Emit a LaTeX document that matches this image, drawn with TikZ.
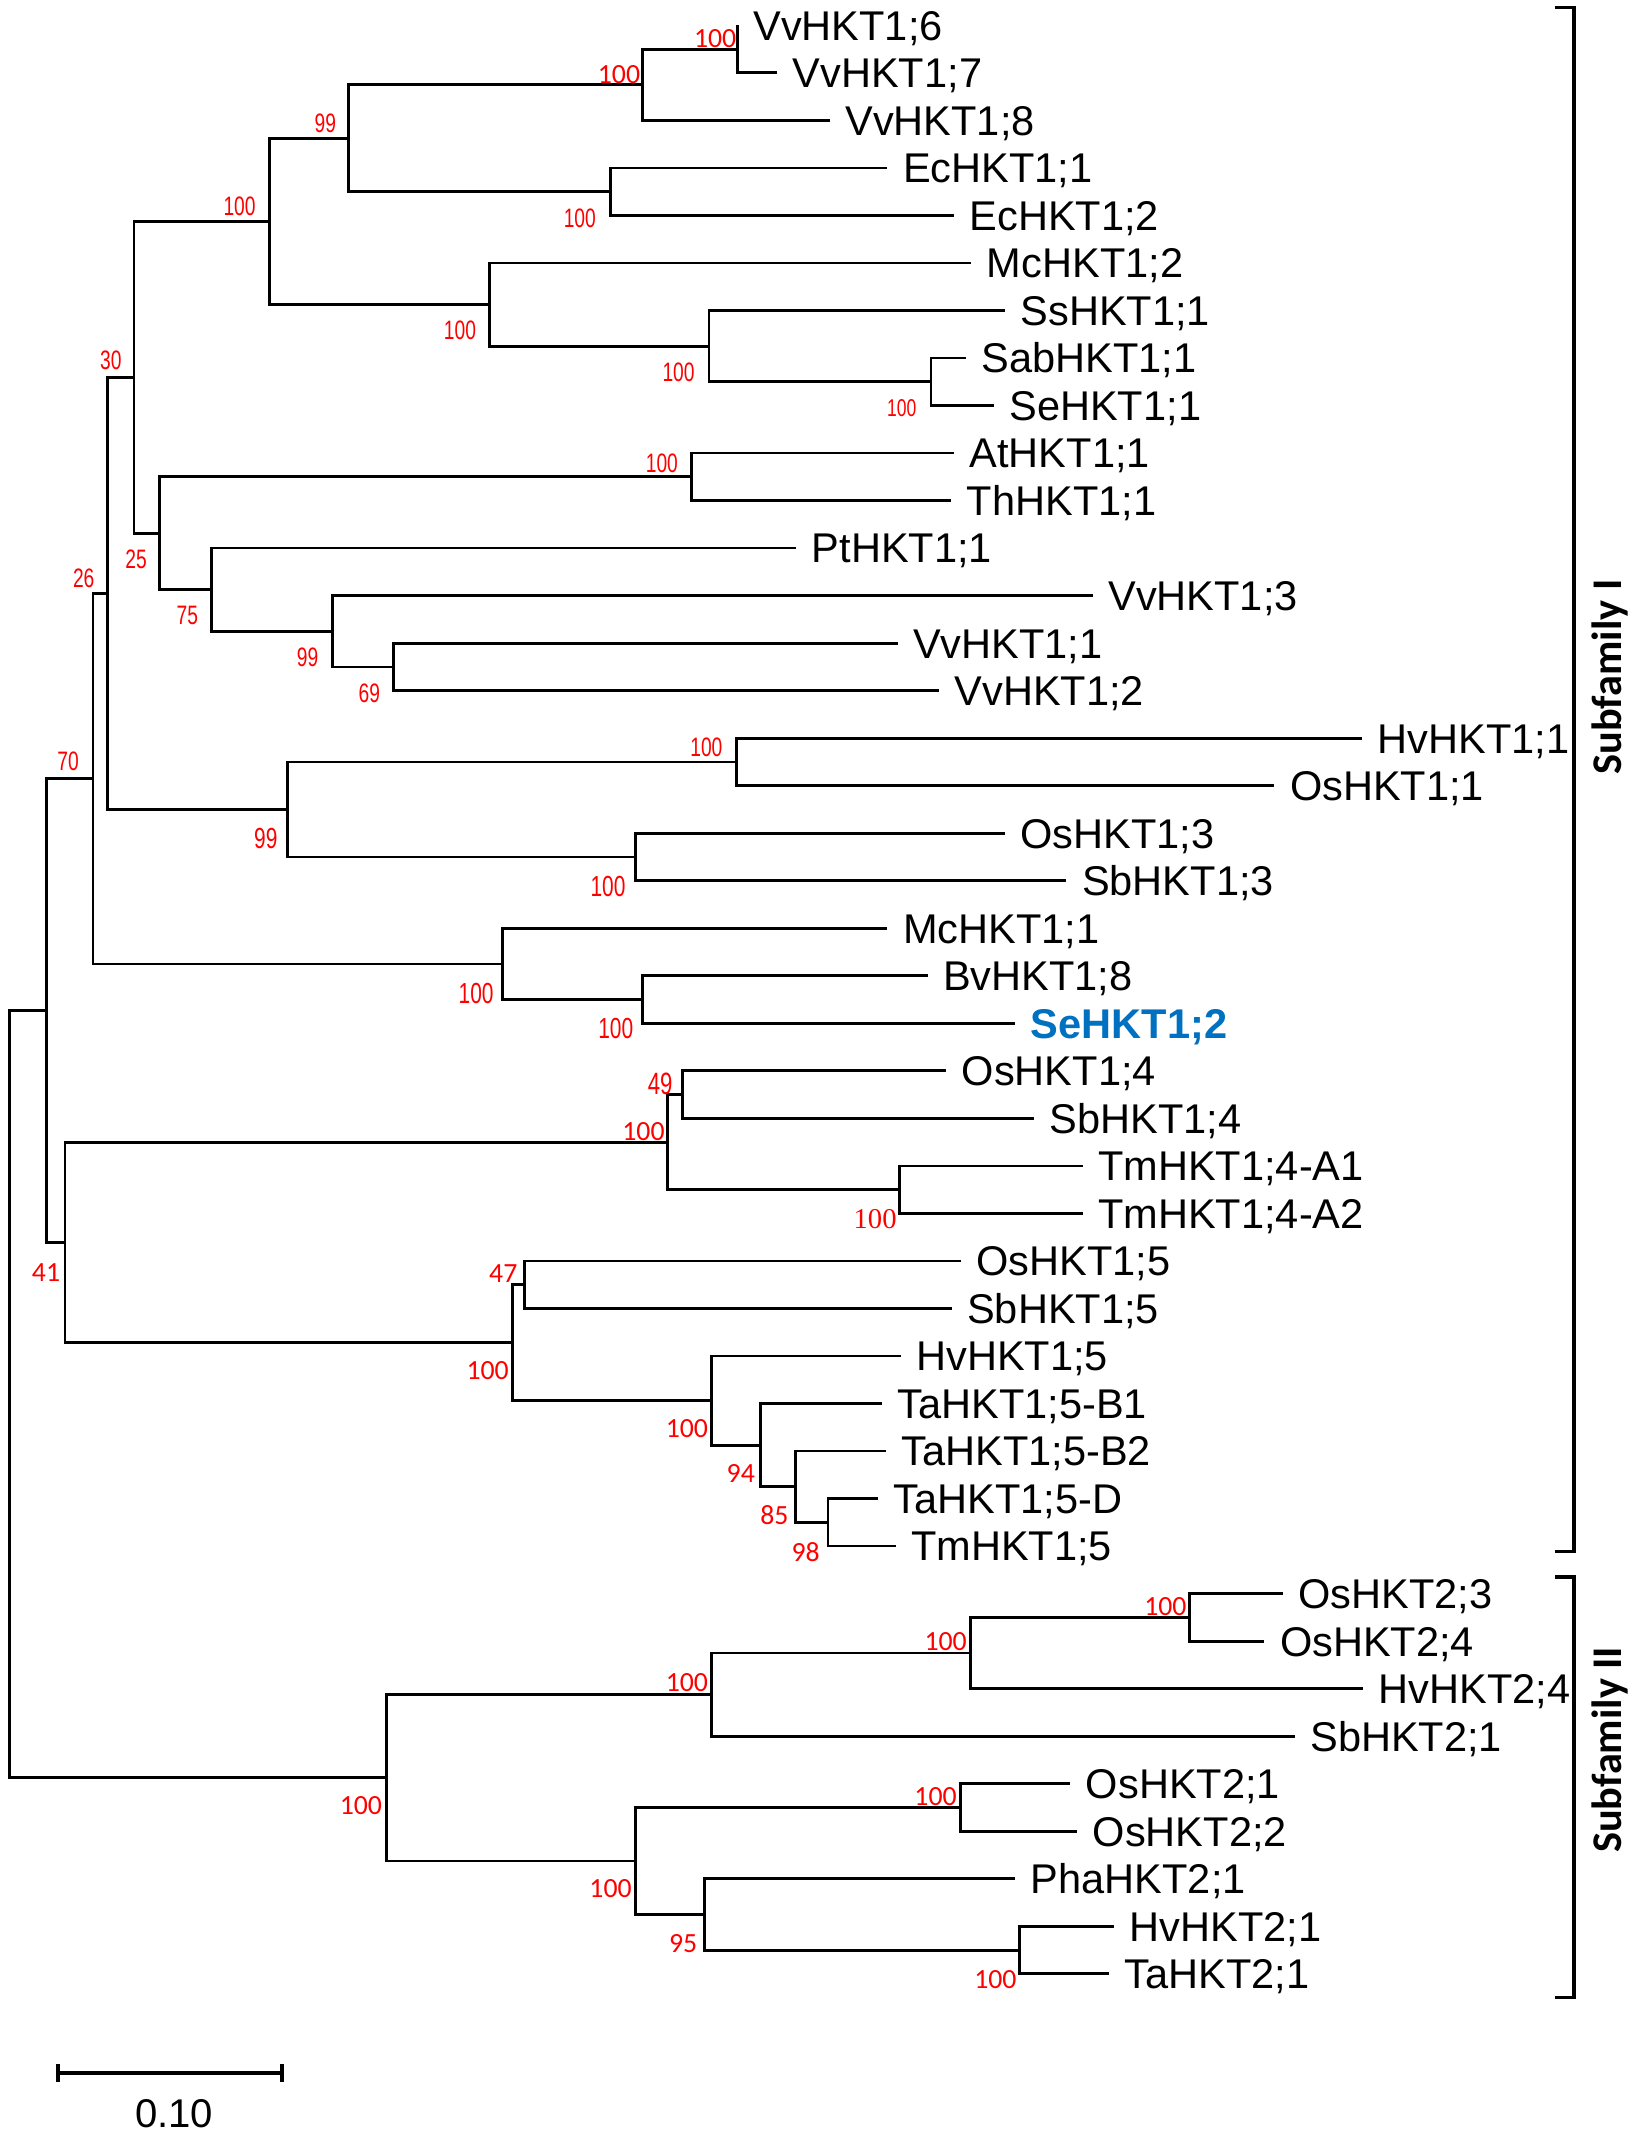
\documentclass[tikz,border=0pt]{standalone}
\usepackage{fontspec}
\setmainfont{Liberation Sans}
\newfontfamily\narrowfont[FakeStretch=0.72]{Liberation Sans}
\newfontfamily\calfont{Carlito}
\newfontfamily\seriffont{Liberation Serif}

\definecolor{bsred}{RGB}{255,0,0}
\definecolor{hiblue}{RGB}{0,112,192}

\tikzset{every picture/.style={line width=0.75pt}}
\tikzset{
  branch/.style={line width=1.55pt},
  leaf/.style={anchor=west, inner xsep=8.25pt, inner ysep=0pt, text height=16.4pt, text depth=0pt, font=\fontsize{22.9}{26}\selectfont},
  bsn/.style={text=bsred, inner sep=0pt, font=\narrowfont\fontsize{14.7}{16}\selectfont},
  bsl/.style={text=bsred, inner sep=0pt, font=\calfont\fontsize{15.3}{17}\selectfont},
  bss/.style={text=bsred, inner sep=0pt, font=\seriffont\fontsize{15.8}{17}\selectfont},
  bracket/.style={line width=1.9pt},
  famlbl/.style={rotate=90, inner sep=0pt, font=\calfont\bfseries\fontsize{23.3}{26}\selectfont},
  scalebar/.style={line width=2.3pt}
}

\begin{document}
\begin{tikzpicture}[x=0.75pt,y=0.75pt,yscale=-1,xscale=1]
\path[use as bounding box] (0,0) rectangle (1204,1568);

%Internal nodes
\coordinate (R) at (6.9,1024.4);
\coordinate (S1) at (34.2,742.5);
\coordinate (N70) at (68.4,572.2);
\coordinate (N41) at (47.7,912.9);
\coordinate (N26) at (78.8,436);
\coordinate (Nmcb) at (369,708.3);
\coordinate (N30) at (98.4,277.2);
\coordinate (N99b) at (211,594.8);
\coordinate (N100a) at (198,162.6);
\coordinate (N25) at (116.9,391.8);
\coordinate (N99a) at (256,101.5);
\coordinate (Nmc) at (359.4,223.8);
\coordinate (Nvv678) at (472,62.2);
\coordinate (Nec) at (448.6,140.9);
\coordinate (Nvv67) at (542,36.1);
\coordinate (Nss) at (521,254.3);
\coordinate (Nsab) at (684,280.5);
\coordinate (Nat) at (507.8,350.4);
\coordinate (N75) at (155.3,433.3);
\coordinate (N99c) at (244.5,463.8);
\coordinate (N69) at (289,490.1);
\coordinate (Nhv11) at (540.9,559.9);
\coordinate (Nos13) at (467,629.7);
\coordinate (Nbv) at (472,734.5);
\coordinate (N100c) at (490.5,839.2);
\coordinate (N49) at (501.6,804.3);
\coordinate (Ntm) at (660.7,874.2);
\coordinate (N100d) at (376.3,986.5);
\coordinate (N47) at (385.2,944);
\coordinate (Nhv15) at (522.8,1029.1);
\coordinate (N94) at (558.5,1061.9);
\coordinate (N85) at (584.3,1092.4);
\coordinate (N98) at (608.4,1118.6);
\coordinate (S2) at (283.7,1306.3);
\coordinate (Nsb) at (522.8,1245.2);
\coordinate (Nhv24) at (712.9,1214.6);
\coordinate (Nos23) at (874,1188.5);
\coordinate (Nlow) at (467,1367.4);
\coordinate (Nos21) at (705.8,1328.1);
\coordinate (N95) at (517.8,1406.7);
\coordinate (Nhv21) at (749,1432.9);

% Leaf Nodes
\node[leaf] (vv16) at (542,18.6) {VvHKT1;6};
\node[leaf] (vv17) at (571,53.5) {VvHKT1;7};
\node[leaf] (vv18) at (609.6,88.4) {VvHKT1;8};
\node[leaf] (ec11) at (652,123.4) {EcHKT1;1};
\node[leaf] (ec12) at (701,158.3) {EcHKT1;2};
\node[leaf] (mc12) at (713.7,193.2) {McHKT1;2};
\node[leaf] (ss11) at (738.4,228.1) {SsHKT1;1};
\node[leaf] (sab11) at (709.8,263) {SabHKT1;1};
\node[leaf] (se11) at (730.2,298) {SeHKT1;1};
\node[leaf] (at11) at (701,332.9) {AtHKT1;1};
\node[leaf] (th11) at (699,367.8) {ThHKT1;1};
\node[leaf] (pt11) at (585,402.7) {PtHKT1;1};
\node[leaf] (vv13) at (802.9,437.6) {VvHKT1;3};
\node[leaf] (vv11) at (659.5,472.6) {VvHKT1;1};
\node[leaf] (vv12) at (690,507.5) {VvHKT1;2};
\node[leaf] (hv11) at (1001,542.4) {HvHKT1;1};
\node[leaf] (os11) at (936.4,577.3) {OsHKT1;1};
\node[leaf] (os13) at (738.4,612.2) {OsHKT1;3};
\node[leaf] (sb13) at (783.6,647.2) {SbHKT1;3};
\node[leaf] (mc11) at (652,682.1) {McHKT1;1};
\node[leaf] (bv18) at (681.5,717) {BvHKT1;8};
\node[leaf, text=hiblue, font=\fontsize{22.9}{26}\selectfont\bfseries] (se12) at (746,751.9) {SeHKT1;2};
\node[leaf] (os14) at (695.2,786.8) {OsHKT1;4};
\node[leaf] (sb14) at (759.7,821.8) {SbHKT1;4};
\node[leaf] (tma1) at (795.4,856.7) {TmHKT1;4-A1};
\node[leaf] (tma2) at (795.4,891.6) {TmHKT1;4-A2};
\node[leaf] (os15) at (705.8,926.5) {OsHKT1;5};
\node[leaf] (sb15) at (699.2,961.4) {SbHKT1;5};
\node[leaf] (hv15) at (661.8,996.4) {HvHKT1;5};
\node[leaf] (tab1) at (648,1031.3) {TaHKT1;5-B1};
\node[leaf] (tab2) at (650.9,1066.2) {TaHKT1;5-B2};
\node[leaf] (tad) at (645,1101.1) {TaHKT1;5-D};
\node[leaf] (tm15) at (658,1136) {TmHKT1;5};
\node[leaf] (os23) at (942.7,1171) {OsHKT2;3};
\node[leaf] (os24) at (929,1205.9) {OsHKT2;4};
\node[leaf] (hv24) at (1001.6,1240.8) {HvHKT2;4};
\node[leaf] (sb21) at (951.3,1275.7) {SbHKT2;1};
\node[leaf] (os21) at (786.4,1310.6) {OsHKT2;1};
\node[leaf] (os22) at (791.5,1345.6) {OsHKT2;2};
\node[leaf] (pha21) at (746,1380.5) {PhaHKT2;1};
\node[leaf] (hv21) at (818.6,1415.4) {HvHKT2;1};
\node[leaf] (ta21) at (815,1450.3) {TaHKT2;1};

%Branches
\draw[branch] (R) |- (S1) (R) |- (S2);
\draw[branch] (S1) |- (N70) (S1) |- (N41);
\draw[branch] (N70) |- (N26) (N70) |- (Nmcb);
\draw[branch] (N26) |- (N30) (N26) |- (N99b);
\draw[branch] (N30) |- (N100a) (N30) |- (N25);
\draw[branch] (N100a) |- (N99a) (N100a) |- (Nmc);
\draw[branch] (N99a) |- (Nvv678) (N99a) |- (Nec);
\draw[branch] (Nvv678) |- (Nvv67) (Nvv678) |- (vv18.west);
\draw[branch] (Nvv67) |- (vv16.west) (Nvv67) |- (vv17.west);
\draw[branch] (Nec) |- (ec11.west) (Nec) |- (ec12.west);
\draw[branch] (Nmc) |- (mc12.west) (Nmc) |- (Nss);
\draw[branch] (Nss) |- (ss11.west) (Nss) |- (Nsab);
\draw[branch] (Nsab) |- (sab11.west) (Nsab) |- (se11.west);
\draw[branch] (N25) |- (Nat) (N25) |- (N75);
\draw[branch] (Nat) |- (at11.west) (Nat) |- (th11.west);
\draw[branch] (N75) |- (pt11.west) (N75) |- (N99c);
\draw[branch] (N99c) |- (vv13.west) (N99c) |- (N69);
\draw[branch] (N69) |- (vv11.west) (N69) |- (vv12.west);
\draw[branch] (N99b) |- (Nhv11) (N99b) |- (Nos13);
\draw[branch] (Nhv11) |- (hv11.west) (Nhv11) |- (os11.west);
\draw[branch] (Nos13) |- (os13.west) (Nos13) |- (sb13.west);
\draw[branch] (Nmcb) |- (mc11.west) (Nmcb) |- (Nbv);
\draw[branch] (Nbv) |- (bv18.west) (Nbv) |- (se12.west);
\draw[branch] (N41) |- (N100c) (N41) |- (N100d);
\draw[branch] (N100c) |- (N49) (N100c) |- (Ntm);
\draw[branch] (N49) |- (os14.west) (N49) |- (sb14.west);
\draw[branch] (Ntm) |- (tma1.west) (Ntm) |- (tma2.west);
\draw[branch] (N100d) |- (N47) (N100d) |- (Nhv15);
\draw[branch] (N47) |- (os15.west) (N47) |- (sb15.west);
\draw[branch] (Nhv15) |- (hv15.west) (Nhv15) |- (N94);
\draw[branch] (N94) |- (tab1.west) (N94) |- (N85);
\draw[branch] (N85) |- (tab2.west) (N85) |- (N98);
\draw[branch] (N98) |- (tad.west) (N98) |- (tm15.west);
\draw[branch] (S2) |- (Nsb) (S2) |- (Nlow);
\draw[branch] (Nsb) |- (Nhv24) (Nsb) |- (sb21.west);
\draw[branch] (Nhv24) |- (Nos23) (Nhv24) |- (hv24.west);
\draw[branch] (Nos23) |- (os23.west) (Nos23) |- (os24.west);
\draw[branch] (Nlow) |- (Nos21) (Nlow) |- (N95);
\draw[branch] (Nos21) |- (os21.west) (Nos21) |- (os22.west);
\draw[branch] (N95) |- (pha21.west) (N95) |- (Nhv21);
\draw[branch] (Nhv21) |- (hv21.west) (Nhv21) |- (ta21.west);

% Bootstrap values
\node[bsl] (bvv67) at (525.5,28) {100};
\node[bsl] (bvv678) at (454.8,54.7) {100};
\node[bsn] (b99a) at (239,90.5) {99};
\node[bsn] (b100a) at (176,151.9) {100};
\node[bsn] (bec) at (426,160.3) {100};
\node[bsn] (bmc) at (338,243) {100};
\node[bsn] (bss) at (498.6,273.4) {100};
\node[bsn, font=\narrowfont\fontsize{13.4}{15}\selectfont] (bsab) at (662.6,299.7) {100};
\node[bsn] (b30) at (81.5,265) {30};
\node[bsn] (b25) at (100,410.7) {25};
\node[bsn] (b26) at (61.5,424.6) {26};
\node[bsn] (bat) at (486.3,340.2) {100};
\node[bsn] (b75) at (137.6,452.3) {75};
\node[bsn] (b99c) at (226,482.6) {99};
\node[bsn] (b69) at (271.4,509.6) {69};
\node[bsn] (b70) at (50,559.4) {70};
\node[bsn] (bhv11) at (519,549.3) {100};
\node[bsn, font=\narrowfont\fontsize{16}{18}\selectfont] (b99b) at (195.3,615.8) {99};
\node[bsn, font=\narrowfont\fontsize{16}{18}\selectfont] (bos13) at (446.7,651.2) {100};
\node[bsn, font=\narrowfont\fontsize{16}{18}\selectfont] (bmcb) at (349.8,729.8) {100};
\node[bsn, font=\narrowfont\fontsize{16}{18}\selectfont] (bbv) at (452.4,755.8) {100};
\node[bsn, font=\narrowfont\fontsize{17}{19}\selectfont] (b49) at (485.1,796.3) {49};
\node[bsl] (b100c) at (472.8,831.8) {100};
\node[bss] (btm) at (643,895.9) {100};
\node[bsl] (b41) at (33.8,934.7) {41};
\node[bsl] (b47) at (369.8,935.7) {47};
\node[bsl] (b100d) at (358.3,1007.3) {100};
\node[bsl] (bhv15) at (504.7,1049.6) {100};
\node[bsl] (b94) at (544.3,1082.3) {94};
\node[bsl] (b85) at (569,1113.3) {85};
\node[bsl] (b98) at (592,1140.8) {98};
\node[bsl] (bos23) at (856.3,1180.4) {100};
\node[bsl] (bhv24) at (694.8,1206.2) {100};
\node[bsl] (bsb) at (504.7,1236.2) {100};
\node[bsl] (bs2) at (265.2,1326.7) {100};
\node[bsl] (bos21) at (687.4,1319.8) {100};
\node[bsl] (blow) at (448.6,1387.9) {100};
\node[bsl] (b95) at (502,1428.2) {95};
\node[bsl] (bhv21) at (731.4,1454.7) {100};

%Brackets
\coordinate (brIa) at (1142.6,5.7);
\coordinate (brIb) at (1142.6,1140);
\coordinate (brIIa) at (1142.6,1158.6);
\coordinate (brIIb) at (1142.6,1467.7);
\draw[bracket] (brIa) -- ++(13.8,0) |- (brIb);
\draw[bracket] (brIIa) -- ++(13.8,0) |- (brIIb);
\node[famlbl] (famI) at (1183,497.4) {Subfamily I};
\node[famlbl] (famII) at (1183,1285.7) {Subfamily II};

%Scale bar
\coordinate (sbL) at (42.4,1523.2);
\coordinate (sbR) at (207.3,1523.2);
\draw[scalebar] (sbL) -- (sbR);
\draw[scalebar] (sbL) ++(0,-6.7) -- ++(0,13.4);
\draw[scalebar] (sbR) ++(0,-6.7) -- ++(0,13.4);
\node[inner sep=0pt, font=\fontsize{22.1}{25}\selectfont] (sblbl) at (128,1553.4) {0.10};

\end{tikzpicture}
\end{document}
